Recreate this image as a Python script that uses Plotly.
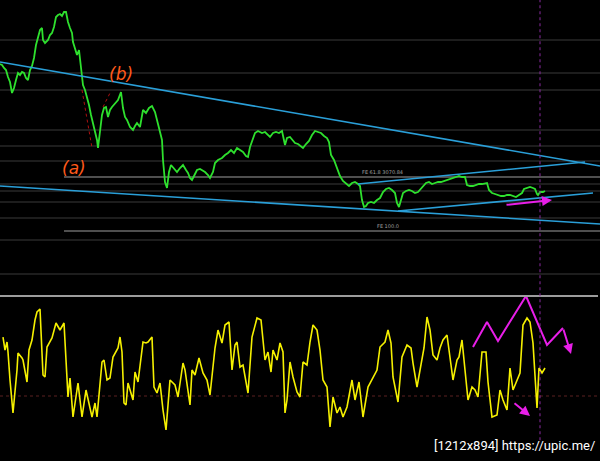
import plotly.graph_objects as go

# ---- price panel (bar position, close) ----
price_x = [0, 2, 4, 6, 8, 10, 12, 14, 16, 18, 20, 22, 24, 26, 28, 30, 32, 34, 36, 38, 40, 42, 43, 45, 48, 50, 52, 54, 56, 58,
           60, 62, 64, 66, 68, 70, 72, 73, 75, 77, 79, 81, 83, 85, 87, 89, 91, 93, 95, 97, 98, 100, 102, 104, 106, 108, 110,
           112, 115, 118, 121, 123, 125, 127, 130, 133, 135, 137, 140, 143, 146, 149, 152, 155, 157, 160, 162, 163, 165,
           167, 169, 171, 174, 177, 180, 183, 186, 188, 190, 192, 195, 197, 200, 202, 205, 208, 210, 213, 215, 218, 222,
           225, 228, 231, 234, 237, 240, 243, 246, 248, 250, 253, 255, 258, 262, 265, 268, 270, 273, 276, 279, 282, 285,
           287, 290, 292, 295, 298, 301, 303, 306, 309, 312, 315, 318, 321, 324, 327, 329, 331, 334, 337, 340, 343, 346,
           349, 352, 355, 358, 360, 362, 364, 366, 368, 371, 374, 377, 380, 383, 386, 389, 392, 395, 397, 399, 401, 403,
           406, 409, 412, 415, 418, 420, 423, 426, 429, 432, 435, 438, 441, 444, 447, 450, 453, 456, 459, 462, 465, 467,
           470, 473, 476, 479, 482, 485, 487, 489, 492, 495, 498, 501, 504, 507, 510, 513, 516, 519, 522, 524, 527, 530,
           533, 535, 537, 538, 540, 543, 545]
price_close = [236, 235, 232, 230, 223, 218, 207, 212, 220, 227, 225, 228, 227, 222, 220, 230, 234, 242, 255, 264, 270, 272,
               260, 257, 260, 265, 267, 273, 283, 285, 286, 284, 288, 288, 278, 272, 267, 258, 250, 245, 250, 232, 215, 210,
               203, 195, 185, 177, 170, 160, 152, 167, 185, 192, 193, 183, 190, 193, 197, 200, 208, 192, 183, 180, 173, 170,
               174, 177, 173, 190, 187, 192, 194, 188, 180, 167, 160, 140, 118, 112, 128, 135, 132, 128, 132, 135, 130, 127,
               122, 120, 126, 130, 131, 130, 128, 125, 122, 128, 137, 140, 142, 145, 147, 150, 147, 152, 150, 148, 144, 143,
               153, 162, 167, 169, 167, 168, 165, 163, 167, 168, 167, 169, 155, 162, 163, 161, 157, 156, 154, 152, 156, 159,
               165, 169, 168, 167, 164, 162, 158, 145, 140, 132, 124, 119, 116, 114, 117, 118, 116, 114, 100, 93, 94, 97, 98,
               97, 100, 102, 108, 111, 112, 110, 107, 97, 93, 100, 107, 109, 110, 109, 107, 108, 110, 114, 117, 118, 116, 117,
               118, 118, 119, 120, 121, 122, 123, 124, 123, 123, 115, 114, 114, 115, 116, 116, 117, 117, 110, 107, 106, 105,
               104, 104, 105, 105, 104, 103, 105, 107, 111, 112, 113, 112, 111, 106, 105, 108, 108, 109]

# horizontal levels on the price panel
grid_levels = [260, 227, 210, 170, 154, 139, 116, 109, 98, 82, 60, 26]
fe_levels = [123, 69]
fe_labels = ["FE 61.8 3070.84", "FE 100.0"]

# trend lines (x0, p0, x1, p1)
trend_lines = [(0, 238, 600, 134), (0, 114, 600, 76), (358, 116, 585, 138), (398, 89, 593, 107)]

# ---- oscillator panel ----
osc_x = [3, 5, 7, 8, 10, 13, 17, 18, 22, 23, 27, 29, 32, 35, 37, 40, 43, 45, 47, 50, 52, 56, 60, 64, 67, 68, 70, 73, 78, 82,
         86, 92, 95, 97, 102, 104, 107, 110, 113, 118, 120, 122, 124, 126, 128, 133, 135, 138, 143, 146, 148, 152, 154, 157,
         160, 163, 166, 170, 175, 178, 183, 185, 190, 192, 195, 199, 203, 207, 210, 215, 218, 222, 225, 229, 232, 235, 237,
         240, 243, 248, 252, 257, 261, 265, 268, 271, 273, 277, 280, 283, 285, 287, 290, 293, 297, 300, 303, 307, 310, 313,
         317, 320, 323, 327, 330, 333, 337, 340, 343, 347, 352, 355, 359, 363, 368, 373, 377, 380, 385, 388, 391, 393, 398,
         402, 407, 411, 413, 417, 420, 424, 427, 430, 433, 437, 440, 443, 447, 449, 453, 457, 459, 462, 465, 468, 472, 475,
         478, 482, 486, 488, 492, 497, 500, 503, 507, 510, 513, 517, 520, 523, 527, 530, 533, 537, 539, 542, 545]
osc_val = [124, 111, 119, 109, 81, 48, 91, 108, 103, 101, 79, 111, 121, 141, 149, 152, 86, 84, 114, 119, 123, 138, 131, 138,
           88, 64, 83, 44, 78, 44, 71, 44, 58, 44, 99, 101, 81, 83, 104, 113, 124, 109, 58, 56, 78, 61, 89, 79, 119, 118, 119,
           124, 74, 68, 78, 51, 31, 81, 76, 64, 98, 91, 56, 91, 86, 103, 88, 81, 66, 113, 131, 118, 136, 139, 91, 116, 119, 94,
           96, 68, 124, 143, 141, 101, 109, 89, 111, 101, 118, 109, 48, 61, 99, 84, 69, 64, 99, 96, 119, 136, 131, 111, 81, 74,
           34, 64, 48, 54, 44, 54, 81, 61, 79, 44, 74, 83, 91, 114, 119, 131, 118, 84, 59, 104, 116, 113, 98, 74, 91, 113, 144,
           131, 106, 101, 113, 121, 126, 111, 81, 101, 104, 121, 91, 61, 74, 71, 64, 109, 109, 79, 44, 46, 71, 61, 51, 93, 71,
           81, 88, 136, 143, 139, 118, 53, 93, 88, 93]
osc_level = 65

# magenta wave sketch on oscillator
wave_x = [473, 487, 498, 526, 547, 563]
wave_y = [114, 139, 120, 165, 116, 133]
wave_end = (571, 107)

fig = go.Figure()

fig.add_trace(go.Scatter(x=price_x, y=price_close, mode="lines",
                         line=dict(color="#2ee02e", width=1.8), yaxis="y", hoverinfo="skip"))
fig.add_trace(go.Scatter(x=osc_x, y=osc_val, mode="lines",
                         line=dict(color="#f5f000", width=1.6), yaxis="y2", hoverinfo="skip"))
fig.add_trace(go.Scatter(x=wave_x, y=wave_y, mode="lines",
                         line=dict(color="#e81ee8", width=2), yaxis="y2", hoverinfo="skip", cliponaxis=False))

shapes = []
for lv in grid_levels:
    shapes.append(dict(type="line", xref="x", yref="y", x0=0, x1=600, y0=lv, y1=lv,
                       line=dict(color="#3a3a3a", width=1.2), layer="below"))
for lv in fe_levels:
    shapes.append(dict(type="line", xref="x", yref="y", x0=64, x1=600, y0=lv, y1=lv,
                       line=dict(color="#6a6a6a", width=1.4), layer="below"))
for (xa, pa, xb, pb) in trend_lines:
    shapes.append(dict(type="line", xref="x", yref="y", x0=xa, x1=xb, y0=pa, y1=pb,
                       line=dict(color="#2a9fd8", width=1.6)))
# red dotted construction lines
shapes.append(dict(type="line", xref="x", yref="y", x0=82, x1=92, y0=210, y1=152,
                   line=dict(color="#b01010", width=1, dash="dot")))
shapes.append(dict(type="line", xref="x", yref="y", x0=103, x1=110, y0=193, y1=207,
                   line=dict(color="#b01010", width=1, dash="dot")))
# oscillator level
shapes.append(dict(type="line", xref="x", yref="y2", x0=0, x1=600, y0=osc_level, y1=osc_level,
                   line=dict(color="#5a2020", width=1, dash="dot"), layer="below"))
# panel separator
shapes.append(dict(type="line", xref="x", yref="paper", x0=0, x1=598, y0=0.3579, y1=0.3579,
                   line=dict(color="#9c9c9c", width=2)))
# vertical cursor line
shapes.append(dict(type="line", xref="x", yref="paper", x0=540, x1=540, y0=0.045, y1=1,
                   line=dict(color="#8a2aa0", width=1, dash="dot")))

annotations = []
for lv, lab, xx in zip(fe_levels, fe_labels, [360, 375]):
    annotations.append(dict(x=xx, y=lv, xref="x", yref="y", text=lab, showarrow=False,
                            xanchor="left", yanchor="bottom", font=dict(size=5, color="#a0a0a0", family="DejaVu Sans")))
annotations.append(dict(x=121, y=226, xref="x", yref="y", text="<i>(b)</i>", showarrow=False,
                        font=dict(size=17, color="#ff5a1a", family="DejaVu Sans")))
annotations.append(dict(x=74, y=132, xref="x", yref="y", text="<i>(a)</i>", showarrow=False,
                        font=dict(size=17, color="#ff5a1a", family="DejaVu Sans")))
# magenta arrows
annotations.append(dict(x=552, y=100, ax=505, ay=95, xref="x", yref="y", axref="x", ayref="y",
                        text="", showarrow=True, arrowhead=2, arrowsize=1, arrowwidth=2, arrowcolor="#e81ee8"))
annotations.append(dict(x=wave_end[0], y=wave_end[1], ax=wave_x[-1], ay=wave_y[-1], xref="x", yref="y2",
                        axref="x", ayref="y2", text="", showarrow=True, arrowhead=2, arrowsize=1, arrowwidth=2,
                        arrowcolor="#e81ee8"))
annotations.append(dict(x=530, y=45, ax=513, ay=59, xref="x", yref="y2", axref="x", ayref="y2",
                        text="", showarrow=True, arrowhead=2, arrowsize=1, arrowwidth=2, arrowcolor="#e81ee8"))
annotations.append(dict(x=0.995, y=0.012, xref="paper", yref="paper", xanchor="right", yanchor="bottom",
                        text="[1212x894] https://upic.me/", showarrow=False,
                        font=dict(size=13, color="#ffffff", family="Roboto")))

fig.update_layout(
    width=600, height=461, margin=dict(l=0, r=0, t=0, b=0),
    paper_bgcolor="#000000", plot_bgcolor="#000000", showlegend=False,
    xaxis=dict(range=[0, 600], visible=False, fixedrange=True),
    yaxis=dict(domain=[0.3579, 1], range=[4, 300], visible=False),
    yaxis2=dict(domain=[0, 0.3579], range=[0, 165], visible=False, anchor="x"),
    shapes=shapes, annotations=annotations,
)

fig.write_html("out.html", config={"displayModeBar": False},
               post_script="document.body.style.margin='0';document.body.style.overflow='hidden';"
                           "document.body.style.background='#000';")
